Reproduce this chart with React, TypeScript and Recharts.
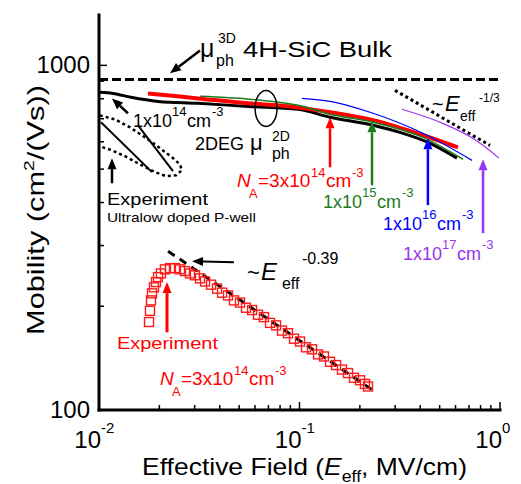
import React from 'react';
import {
  ComposedChart,
  Line,
  Scatter,
  XAxis,
  YAxis,
  ReferenceLine,
  ReferenceDot,
} from 'recharts';

const FONT = '"Liberation Sans", Arial, Helvetica, sans-serif';
const RED = '#ff0000';
const GREEN = '#1c7c1c';
const BLUE = '#0000ff';
const PURPLE = '#9933ee';

// effective field (MV/cm) vs mobility (cm2/Vs)
const bulkE = [0.01, 1];
const bulkMu = [910, 910];

const na14E = [0.0101, 0.01175, 0.01444, 0.0197, 0.0312, 0.0554, 0.0983, 0.142, 0.2327, 0.317, 0.448, 0.61];
const na14Mu = [835, 829, 808, 786, 776, 760, 746, 707, 670, 639, 594, 538];

const redE = [0.01756, 0.0312, 0.0554, 0.0897, 0.142, 0.2327, 0.413, 0.617];
const redMu = [829, 802, 776, 760, 731, 693, 627, 578];

const greenE = [0.0319, 0.0983, 0.142, 0.2327, 0.413, 0.654];
const greenMu = [813, 766, 721, 684, 618, 534];

const blueE = [0.1029, 0.142, 0.2327, 0.413, 0.725];
const blueMu = [802, 786, 726, 635, 530];

const purpleE = [0.324, 0.502, 0.733, 0.989];
const purpleMu = [746, 684, 614, 538];

const thirdE = [0.2995, 0.892];
const thirdMu = [846, 586];

// ultralow doped p-well experiment (top left) and its outline
const pwell1E = [0.01023, 0.01838];
const pwell1Mu = [684, 490];
const pwell2E = [0.01565, 0.02339];
const pwell2Mu = [670, 493];
const loopE = [0.0101, 0.01202, 0.01428, 0.01696, 0.02015, 0.02312, 0.02535, 0.0259, 0.02421, 0.02159, 0.01902, 0.01601, 0.01348, 0.01161, 0.0101];
const loopMu = [716, 697, 661, 618, 575, 541, 516, 496, 480, 477, 490, 516, 545, 567, 582];

// experiment NA = 3e14
const expE = [
  0.01776, 0.01796, 0.01817, 0.01838, 0.0188, 0.01924, 0.01969, 0.02036, 0.02133, 0.0226, 0.02393, 0.02534, 0.02683, 0.02843, 0.03009,
  0.0319, 0.0338, 0.0362, 0.0388, 0.0411, 0.044, 0.0471, 0.0505, 0.0541, 0.058, 0.0621, 0.0665, 0.0713, 0.0764, 0.0818,
  0.0876, 0.0939, 0.1006, 0.1078, 0.1155, 0.1237, 0.1325, 0.142, 0.1521, 0.1629, 0.1746, 0.187, 0.2003, 0.2121, 0.2197,
];
const expMu = [
  180, 194, 208, 218, 227, 235, 243, 249, 256, 258, 258, 256, 253, 249, 246,
  241, 236, 231, 225, 219, 215, 208, 205, 198, 195, 189, 186, 179, 176, 170,
  167, 161, 158, 152, 150, 145, 143, 138, 135, 131, 128, 124, 122, 119, 117,
];
const fitE = [0.0221, 0.2327];
const fitMu = [289, 114];

const xTicks = [0.01, 0.02, 0.03, 0.04, 0.05, 0.06, 0.07, 0.08, 0.09, 0.1, 0.2, 0.3, 0.4, 0.5, 0.6, 0.7, 0.8, 0.9, 1];
const xTickExp: Record<string, string> = { '0.01': '-2', '0.1': '-1', '1': '0' };
const yTicks = [100, 200, 300, 400, 500, 600, 700, 800, 900, 1000];
const yTickLabels = [100, 1000];

const pts = (E: number[], mu: number[]) => E.map((e, i) => ({ E: e, mu: mu[i] }));

const AXIS = { stroke: '#000', strokeWidth: 3, strokeLinecap: 'square' as const };

const BottomTick = ({ x, y, payload }: any) => {
  const exp = xTickExp[String(payload.value)];
  const len = exp ? 8 : 5;
  return (
    <g>
      <line x1={x} x2={x} y1={y} y2={y - len} stroke="#000" strokeWidth={1.5} />
      {exp && (
        <g fontFamily={FONT} fill="#000">
          <text x={x + 2} y={y + 38} textAnchor="end" fontSize={24}>10</text>
          <text x={x + 2} y={y + 23} fontSize={15}>{exp}</text>
        </g>
      )}
    </g>
  );
};

const TopTick = ({ x, y, payload }: any) => {
  const len = xTickExp[String(payload.value)] ? 8 : 5;
  return <line x1={x} x2={x} y1={y} y2={y + len} stroke="#000" strokeWidth={1.5} />;
};

const LeftTick = ({ x, y, payload }: any) => {
  const major = yTickLabels.includes(payload.value);
  return (
    <g>
      <line x1={x} x2={x + (major ? 8 : 5)} y1={y} y2={y} stroke="#000" strokeWidth={1.5} />
      {major && (
        <text x={x - 9} y={y + 8} textAnchor="end" fontSize={24} fontFamily={FONT} fill="#000">
          {payload.value}
        </text>
      )}
    </g>
  );
};

const RightTick = ({ x, y, payload }: any) => {
  const major = yTickLabels.includes(payload.value);
  return <line x1={x} x2={x - (major ? 8 : 5)} y1={y} y2={y} stroke="#000" strokeWidth={1.5} />;
};

const XTitle = (props: any) => {
  const vb = props.viewBox || { x: 99, y: 410, width: 401, height: 74 };
  const cx = vb.x + vb.width / 2 + 5;
  return (
    <text x={cx} y={vb.y + 65} textAnchor="middle" fontSize={24} fontFamily={FONT} fill="#000"
      textLength={325} lengthAdjust="spacingAndGlyphs">
      Effective Field (<tspan fontStyle="italic">E</tspan>
      <tspan fontSize={16} dy={7}>eff</tspan>
      <tspan dy={-7}>, MV/cm)</tspan>
    </text>
  );
};

const YTitle = () => {
  const cx = 44;
  const cy = 210;
  return (
    <text x={cx} y={cy} transform={`rotate(-90 ${cx} ${cy})`} textAnchor="middle" fontSize={24}
      fontFamily={FONT} fill="#000" textLength={250} lengthAdjust="spacingAndGlyphs">
      Mobility (cm<tspan fontSize={15} dy={-10}>2</tspan>
      <tspan dy={10}>/(Vs))</tspan>
    </text>
  );
};

type Part = { t: string; dx: number; dy: number; fs: number; it?: boolean; len?: number };

const Rich = ({ cx, cy, parts, color }: { cx: number; cy: number; parts: Part[]; color: string }) => (
  <g fill={color} fontFamily={FONT}>
    {parts.map((p, i) => (
      <text
        key={i}
        x={cx + p.dx}
        y={cy + p.dy}
        fontSize={p.fs}
        fontStyle={p.it ? 'italic' : 'normal'}
        textLength={p.len}
        lengthAdjust={p.len ? 'spacingAndGlyphs' : undefined}
      >
        {p.t}
      </text>
    ))}
  </g>
);

const naParts: Part[] = [
  { t: 'N', dx: 0, dy: 0, fs: 19, it: true },
  { t: 'A', dx: 12, dy: 11, fs: 13 },
  { t: '=3x10', dx: 21, dy: 0, fs: 19 },
  { t: '14', dx: 74, dy: -10, fs: 13 },
  { t: 'cm', dx: 89, dy: 0, fs: 19 },
  { t: '-3', dx: 115, dy: -10, fs: 13 },
];
const densParts = (p: string): Part[] => [
  { t: '1x10', dx: 0, dy: 0, fs: 18 },
  { t: p, dx: 39, dy: -11, fs: 13 },
  { t: 'cm', dx: 54, dy: 0, fs: 18 },
  { t: '-3', dx: 79, dy: -11, fs: 13 },
];

const notes: { E: number; mu: number; color: string; parts: Part[] }[] = [
  {
    E: 0.0523, mu: 1055, color: '#000', parts: [
      { t: 'μ', dx: -43, dy: 0, fs: 25 },
      { t: '3D', dx: -25, dy: -14, fs: 14 },
      { t: 'ph', dx: -27, dy: 9, fs: 16 },
      { t: '4H-SiC Bulk', dx: 0, dy: 0, fs: 22, len: 149 },
    ],
  },
  { E: 0.01478, mu: 661, color: '#000', parts: densParts('14') },
  {
    E: 0.0301, mu: 567, color: '#000', parts: [
      { t: '2DEG', dx: 0, dy: 0, fs: 18 },
      { t: 'μ', dx: 55, dy: 0, fs: 22 },
      { t: '2D', dx: 77, dy: -9, fs: 14 },
      { t: 'ph', dx: 77, dy: 9, fs: 16 },
    ],
  },
  {
    E: 0.01096, mu: 393, color: '#000', parts: [
      { t: 'Experiment', dx: 0, dy: 0, fs: 17, len: 101 },
      { t: 'Ultralow doped P-well', dx: 0, dy: 17, fs: 13, len: 149 },
    ],
  },
  { E: 0.0488, mu: 443, color: RED, parts: naParts },
  { E: 0.131, mu: 385, color: GREEN, parts: densParts('15') },
  { E: 0.261, mu: 333, color: BLUE, parts: densParts('16') },
  { E: 0.328, mu: 272, color: PURPLE, parts: densParts('17') },
  {
    E: 0.474, mu: 736, color: '#000', parts: [
      { t: '~', dx: -3, dy: 0, fs: 20 },
      { t: 'E', dx: 10, dy: 0, fs: 22, it: true },
      { t: 'eff', dx: 25, dy: 10, fs: 14 },
      { t: '-1/3', dx: 44, dy: -9, fs: 12 },
    ],
  },
  {
    E: 0.0566, mu: 238, color: '#000', parts: [
      { t: '~', dx: -3, dy: 0, fs: 22 },
      { t: 'E', dx: 11, dy: 0, fs: 24, it: true },
      { t: 'eff', dx: 32, dy: 9, fs: 16 },
      { t: '-0.39', dx: 52, dy: -16, fs: 16 },
    ],
  },
  {
    E: 0.01229, mu: 150, color: RED, parts: [{ t: 'Experiment', dx: 0, dy: 0, fs: 17, len: 101 }],
  },
  { E: 0.02015, mu: 118, color: RED, parts: naParts },
];

const arrows = [
  { x1: 0.0319, y1: 1105, x2: 0.0226, y2: 948, color: '#000', w: 2.5 },
  { x1: 0.01395, y1: 726, x2: 0.01161, y2: 802, color: '#000', w: 2.5 },
  { x1: 0.01161, y1: 455, x2: 0.01161, y2: 538, color: '#000', w: 2.5 },
  { x1: 0.142, y1: 506, x2: 0.142, y2: 707, color: RED, w: 2.5 },
  { x1: 0.2299, y1: 449, x2: 0.2299, y2: 688, color: GREEN, w: 2.5 },
  { x1: 0.437, y1: 393, x2: 0.437, y2: 614, color: BLUE, w: 2.5 },
  { x1: 0.823, y1: 326, x2: 0.823, y2: 534, color: PURPLE, w: 2.5 },
  { x1: 0.0471, y1: 268.5, x2: 0.0291, y2: 270, color: '#000', w: 2 },
  { x1: 0.02184, y1: 168, x2: 0.02184, y2: 235, color: RED, w: 3 },
];

const arrowShape = (color: string, w: number) => (p: any) => {
  const { x1, y1, x2, y2 } = p;
  const dx = x2 - x1;
  const dy = y2 - y1;
  const L = Math.hypot(dx, dy) || 1;
  const ux = dx / L;
  const uy = dy / L;
  const hl = 11;
  const hw = 4.5;
  const bx = x2 - ux * hl;
  const by = y2 - uy * hl;
  return (
    <g>
      <line x1={x1} y1={y1} x2={bx} y2={by} stroke={color} strokeWidth={w} />
      <polygon
        points={`${x2},${y2} ${bx - uy * hw},${by + ux * hw} ${bx + uy * hw},${by - ux * hw}`}
        fill={color}
      />
    </g>
  );
};

const Square = (p: any) => (
  <rect x={p.cx - 4.5} y={p.cy - 4.5} width={9} height={9} fill="none" stroke="#ff1a1a" strokeWidth={1.4} />
);

const lineProps = { dot: false, activeDot: false, isAnimationActive: false, dataKey: 'mu' };

export default function App() {
  return (
    <div style={{ position: 'absolute', left: 0, top: 0, width: 521, height: 484, background: '#fff' }}>
      <ComposedChart width={521} height={484} margin={{ top: 15, right: 21, bottom: 0, left: 0 }}>
        <XAxis
          dataKey="E"
          type="number"
          scale="log"
          domain={[0.01, 1]}
          allowDataOverflow
          ticks={xTicks}
          interval={0}
          tick={BottomTick}
          tickLine={false}
          tickSize={0}
          tickMargin={0}
          height={74}
          axisLine={AXIS}
          label={XTitle}
        />
        <XAxis
          xAxisId="t"
          orientation="top"
          type="number"
          scale="log"
          domain={[0.01, 1]}
          allowDataOverflow
          ticks={xTicks}
          interval={0}
          tick={TopTick}
          tickLine={false}
          tickSize={0}
          tickMargin={0}
          height={0}
          axisLine={AXIS}
        />
        <YAxis
          dataKey="mu"
          type="number"
          scale="log"
          domain={[100, 1400]}
          allowDataOverflow
          ticks={yTicks}
          interval={0}
          tick={LeftTick}
          tickLine={false}
          tickSize={0}
          tickMargin={0}
          width={99}
          axisLine={AXIS}
          label={YTitle}
        />
        <YAxis
          yAxisId="r"
          orientation="right"
          type="number"
          scale="log"
          domain={[100, 1400]}
          allowDataOverflow
          ticks={yTicks}
          interval={0}
          tick={RightTick}
          tickLine={false}
          tickSize={0}
          tickMargin={0}
          width={0}
          axisLine={AXIS}
        />

        <Line {...lineProps} data={pts(bulkE, bulkMu)} type="linear" stroke="#000" strokeWidth={3} strokeDasharray="9 4" />
        <Line {...lineProps} data={pts(na14E, na14Mu)} type="monotone" stroke="#000" strokeWidth={3} />
        <Line {...lineProps} data={pts(redE, redMu)} type="monotone" stroke={RED} strokeWidth={4} />
        <Line {...lineProps} data={pts(greenE, greenMu)} type="monotone" stroke={GREEN} strokeWidth={1.5} />
        <Line {...lineProps} data={pts(blueE, blueMu)} type="monotone" stroke={BLUE} strokeWidth={1.2} />
        <Line {...lineProps} data={pts(purpleE, purpleMu)} type="monotone" stroke={PURPLE} strokeWidth={1.2} />
        <Line {...lineProps} data={pts(thirdE, thirdMu)} type="linear" stroke="#000" strokeWidth={3} strokeDasharray="3 3" />
        <Line {...lineProps} data={pts(loopE, loopMu)} type="linear" stroke="#000" strokeWidth={2.5} strokeDasharray="3 3" />
        <Line {...lineProps} data={pts(pwell1E, pwell1Mu)} type="linear" stroke="#000" strokeWidth={2} />
        <Line {...lineProps} data={pts(pwell2E, pwell2Mu)} type="linear" stroke="#000" strokeWidth={2} />
        <Scatter data={pts(expE, expMu)} dataKey="mu" shape={Square} isAnimationActive={false} />
        <Line {...lineProps} data={pts(fitE, fitMu)} type="linear" stroke="#000" strokeWidth={3} strokeDasharray="8 6" />

        {arrows.map((a, i) => (
          <ReferenceLine
            key={`a${i}`}
            segment={[{ x: a.x1, y: a.y1 }, { x: a.x2, y: a.y2 }]}
            ifOverflow="visible"
            shape={arrowShape(a.color, a.w)}
          />
        ))}
        <ReferenceDot
          x={0.0681}
          y={750}
          r={0}
          ifOverflow="visible"
          shape={(p: any) => <ellipse cx={p.cx} cy={p.cy} rx={11} ry={18} fill="none" stroke="#000" strokeWidth={1.5} />}
        />
        {notes.map((n, i) => (
          <ReferenceDot
            key={`n${i}`}
            x={n.E}
            y={n.mu}
            r={0}
            ifOverflow="visible"
            shape={(p: any) => <Rich cx={p.cx} cy={p.cy} parts={n.parts} color={n.color} />}
          />
        ))}
      </ComposedChart>
    </div>
  );
}
